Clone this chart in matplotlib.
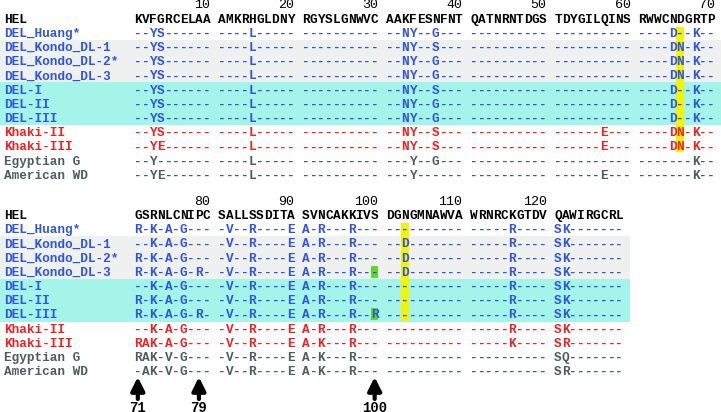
import matplotlib.pyplot as plt
from matplotlib.patches import Rectangle

# sequence alignment data (lysozyme variants vs HEL)
names = ["HEL", "DEL_Huang*", "DEL_Kondo_DL-1", "DEL_Kondo_DL-2*", "DEL_Kondo_DL-3",
         "DEL-I", "DEL-II", "DEL-III", "Khaki-II", "Khaki-III", "Egyptian G", "American WD"]
groups = ["ref", "del", "del", "del", "del", "del", "del", "del",
          "khaki", "khaki", "other", "other"]

block1_start = 1
block1 = [
    "KVFGRCELAA AMKRHGLDNY RGYSLGNWVC AAKFESNFNT QATNRNTDGS TDYGILQINS RWWCNDGRTP",
    "--YS------ ----L----- ---------- --NY--G--- ---------- ---------- ----D--K--",
    "--YS------ ----L----- ---------- --NY--S--- ---------- ---------- ----DN-K--",
    "--YS------ ----L----- ---------- --NY--G--- ---------- ---------- ----DN-K--",
    "--YS------ ----L----- ---------- --NY--G--- ---------- ---------- ----DN-K--",
    "--YS------ ----L----- ---------- --NY--S--- ---------- ---------- ----D--K--",
    "--YS------ ----L----- ---------- --NY--G--- ---------- ---------- ----D--K--",
    "--YS------ ----L----- ---------- --NY--G--- ---------- ---------- ----D--K--",
    "--YS------ ----L----- ---------- --NY--S--- ---------- ------E--- ----DN-K--",
    "--YE------ ----L----- ---------- --NY--S--- ---------- ------E--- ----DN-K--",
    "--Y------- ----L----- ---------- ---Y--G--- ---------- ---------- -------K--",
    "--YE------ ----L----- ---------- ---Y------ ---------- ------E--- -------K--",
]

block2_start = 71
block2 = [
    "GSRNLCNIPC SALLSSDITA SVNCAKKIVS DGNGMNAWVA WRNRCKGTDV QAWIRGCRL",
    "R-K-A-G--- -V--R----E A-R---R--- ---------- -----R---- SK-------",
    "--K-A-G--- -V--R----E A-R---R--- --D------- -----R---- SK-------",
    "R-K-A-G--- -V--R----E A-R---R--- --D------- -----R---- SK-------",
    "R-K-A-G-R- -V--R----E A-R---R--- --D------- -----R---- SK-------",
    "--K-A-G--- -V--R----E A-R---R--- ---------- -----R---- SK-------",
    "R-K-A-G--- -V--R----E A-R---R--- ---------- -----R---- SK-------",
    "R-K-A-G-R- -V--R----E A-R---R--R ---------- -----R---- SK-------",
    "--K-A-G--- -V--R----E A-R---R--- ---------- -----R---- SK-------",
    "RAK-A-G--- -V--R----E A-K---R--- ---------- -----K---- SR-------",
    "RAK-V-G--- -V--R----E A-K---R--- ---------- ---------- SQ-------",
    "-AK-V-G--- -V--R----E A-K---R--- ---------- ---------- SR-------",
]

# highlighted columns: (block, residue, first row, last row)
yellow_cols = [(0, 66, 1, 9), (1, 103, 1, 7)]
green_cells = [(1, 100, 4), (1, 100, 7)]
arrow_pos = [71, 79, 100]

colors = {"ref": "black", "del": "#2f55dd", "khaki": "#ee2222", "other": "#505c5c"}
grey_band = "#eff1f1"
cyan_band = "#a4f4ea"

# layout (pixels)
W, H = 721, 412
cw = 7.64          # character width
x0 = 134.0         # left edge of first residue column
name_x = 4.0
pitch = 14.2
block_top = [18.5, 215.0]
block_band_right = [W, 630]
fs = cw / 0.6 * 72 / 100
mono = "Liberation Mono"

fig = plt.figure(figsize=(W / 100, H / 100), dpi=100)
ax = fig.add_axes([0, 0, 1, 1])
ax.set_xlim(0, W)
ax.set_ylim(H, 0)
ax.axis("off")


def col_of(p, start):
    k = p - start
    return k + k // 10


def row_y(b, r):
    return block_top[b] + r * pitch


for b, (start, rows) in enumerate([(block1_start, block1), (block2_start, block2)]):
    # background bands
    ax.add_patch(Rectangle((0, row_y(b, 2) - pitch / 2), block_band_right[b], 3 * pitch,
                           color=grey_band, lw=0, zorder=0))
    ax.add_patch(Rectangle((0, row_y(b, 5) - pitch / 2), block_band_right[b], 3 * pitch,
                           color=cyan_band, lw=0, zorder=0))

    # position numbers
    n_res = len(rows[0].replace(" ", ""))
    for p in range(start, start + n_res):
        if p % 10 == 0:
            c = col_of(p, start)
            ax.text(x0 + (c + 1) * cw, row_y(b, 0) - 13.5, str(p), fontsize=fs * 1.05,
                    family=mono, ha="right", va="center", color="black")

    for r, seq in enumerate(rows):
        y = row_y(b, r)
        col = colors[groups[r]]
        ax.text(name_x, y + 4.0, names[r], fontsize=fs, family=mono, weight="bold",
                color=col, ha="left", va="baseline", zorder=3)
        for c, ch in enumerate(seq):
            if ch == " ":
                continue
            ax.text(x0 + (c + 0.5) * cw, y + 4.0, ch, fontsize=fs, family=mono,
                    weight="bold", color=col, ha="center", va="baseline", zorder=3)

for b, p, r0, r1 in yellow_cols:
    start = [block1_start, block2_start][b]
    c = col_of(p, start)
    ax.add_patch(Rectangle((x0 + c * cw, row_y(b, r0) - pitch / 2 + 1), cw,
                           (r1 - r0 + 1) * pitch - 2, color="#f4f400", lw=0, zorder=1))

for b, p, r in green_cells:
    start = [block1_start, block2_start][b]
    c = col_of(p, start)
    ax.add_patch(Rectangle((x0 + c * cw, row_y(b, r) - pitch / 2 + 1), cw, pitch - 2,
                           color="#5fd82a", lw=0, zorder=1))

for p in arrow_pos:
    c = col_of(p, block2_start)
    x = x0 + (c + 0.5) * cw
    ax.annotate("", xy=(x, 377), xytext=(x, 399),
                arrowprops=dict(arrowstyle="-|>,head_length=0.5,head_width=0.25",
                                lw=3.0, color="black",
                                mutation_scale=16, shrinkA=0, shrinkB=0))
    ax.text(x, 407.5, str(p), fontsize=fs * 1.1, family=mono, weight="bold",
            ha="center", va="center", color="black")

fig.savefig("out.png", dpi=100)
